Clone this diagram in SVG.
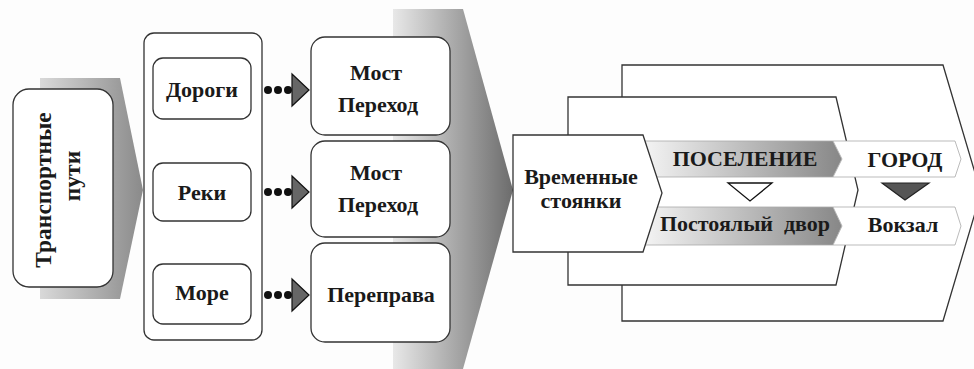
<svg xmlns="http://www.w3.org/2000/svg" width="974" height="369" viewBox="0 0 974 369">
<defs>
<linearGradient id="gLeft" x1="0" y1="0" x2="1" y2="0"><stop offset="0" stop-color="#d9d9d9"/><stop offset="1" stop-color="#8a8a8a"/></linearGradient>
<linearGradient id="gBig" x1="0" y1="0" x2="1" y2="0"><stop offset="0" stop-color="#e8e8e8"/><stop offset="1" stop-color="#6c6c6c"/></linearGradient>
<linearGradient id="gBand" x1="0" y1="0" x2="1" y2="0"><stop offset="0" stop-color="#f6f6f6"/><stop offset="1" stop-color="#878787"/></linearGradient>
</defs>
<style>
.t{font-family:"Liberation Serif","Times New Roman",serif;font-weight:bold;fill:#1a1a1a;text-anchor:middle;font-size:22px}
.box{fill:#fff;stroke:#333;stroke-width:1.3}
.frame{fill:#fff;stroke:#333;stroke-width:1.3}
.band{stroke:#aaa;stroke-width:0.8}
.dot{fill:#111}
.tri{fill:#666;stroke:#111;stroke-width:1.2}
</style>
<rect width="974" height="369" fill="#fdfdfd"/>
<g id="chevrons">
<polygon points="40,78 120,78 143,190 120,299 40,299" fill="url(#gLeft)"/>
<polygon points="393,9 463,9 513,190 463,369 393,369" fill="url(#gBig)"/>
</g>
<g id="transport">
<rect class="box" x="13" y="89" width="100" height="198" rx="16"/>
<text class="t" style="font-size:23.5px" transform="translate(51,190) rotate(-90)">Транспортные</text>
<text class="t" style="font-size:23.5px" transform="translate(80,176) rotate(-90)">пути</text>
</g>
<g id="container"><rect class="box" x="144" y="33" width="118" height="307" rx="10"/></g>
<g id="roads"><rect class="box" x="153" y="58" width="98" height="61" rx="10"/><text class="t" x="202" y="97">Дороги</text></g>
<g id="rivers"><rect class="box" x="153" y="163" width="98" height="58" rx="10"/><text class="t" x="202" y="200">Реки</text></g>
<g id="sea"><rect class="box" x="153" y="264" width="98" height="60" rx="10"/><text class="t" x="202" y="300">Море</text></g>
<g id="bridge1"><rect class="box" x="311" y="37" width="139" height="98" rx="14"/><text class="t" x="376" y="80">Мост</text><text class="t" x="378" y="112">Переход</text></g>
<g id="bridge2"><rect class="box" x="311" y="141" width="139" height="96" rx="14"/><text class="t" x="376" y="180">Мост</text><text class="t" x="378" y="212">Переход</text></g>
<g id="ferry"><rect class="box" x="311" y="243" width="139" height="99" rx="14"/><text class="t" x="381" y="302">Переправа</text></g>
<g id="connectors">
<circle class="dot" cx="268" cy="90" r="4"/><circle class="dot" cx="278" cy="90" r="4"/><circle class="dot" cx="288" cy="90" r="4"/>
<polygon class="tri" points="292,74 309,90 292,106"/>
<circle class="dot" cx="268" cy="192" r="4"/><circle class="dot" cx="278" cy="192" r="4"/><circle class="dot" cx="288" cy="192" r="4"/>
<polygon class="tri" points="292,176 309,192 292,208"/>
<circle class="dot" cx="268" cy="295" r="4"/><circle class="dot" cx="278" cy="295" r="4"/><circle class="dot" cx="288" cy="295" r="4"/>
<polygon class="tri" points="292,279 309,295 292,311"/>
</g>
<g id="frame-outer"><polygon class="frame" points="622,65 943,65 981,193 943,321 622,321"/></g>
<g id="frame-mid"><polygon class="frame" points="568,97 836,97 858,190 836,285 568,285"/></g>
<g id="settlement"><polygon class="band" fill="url(#gBand)" points="640,141 833,141 842,159 833,177 640,177"/><text class="t" x="745" y="166">ПОСЕЛЕНИЕ</text></g>
<g id="city"><polygon class="band" fill="#fff" points="833,141 955,141 961,159 955,177 833,177 842,159"/><text class="t" x="905" y="167">ГОРОД</text></g>
<g id="inn"><polygon class="band" fill="url(#gBand)" points="640,207 833,207 842,226 833,245 640,245"/><text class="t" x="745" y="231" xml:space="preserve">Постоялый  двор</text></g>
<g id="station"><polygon class="band" fill="#fff" points="833,207 955,207 961,226 955,245 833,245 842,226"/><text class="t" x="903" y="232">Вокзал</text></g>
<g id="markers">
<polygon points="728,183 772,183 750,201" fill="#fff" stroke="#111" stroke-width="1.3"/>
<polygon points="882,183 929,183 905,200" fill="#555" stroke="#222" stroke-width="1.2"/>
</g>
<g id="camp"><polygon class="frame" points="513,135 643,135 662,193 643,252 513,252"/><text class="t" x="581" y="184">Временные</text><text class="t" x="581" y="208">стоянки</text></g>
</svg>
